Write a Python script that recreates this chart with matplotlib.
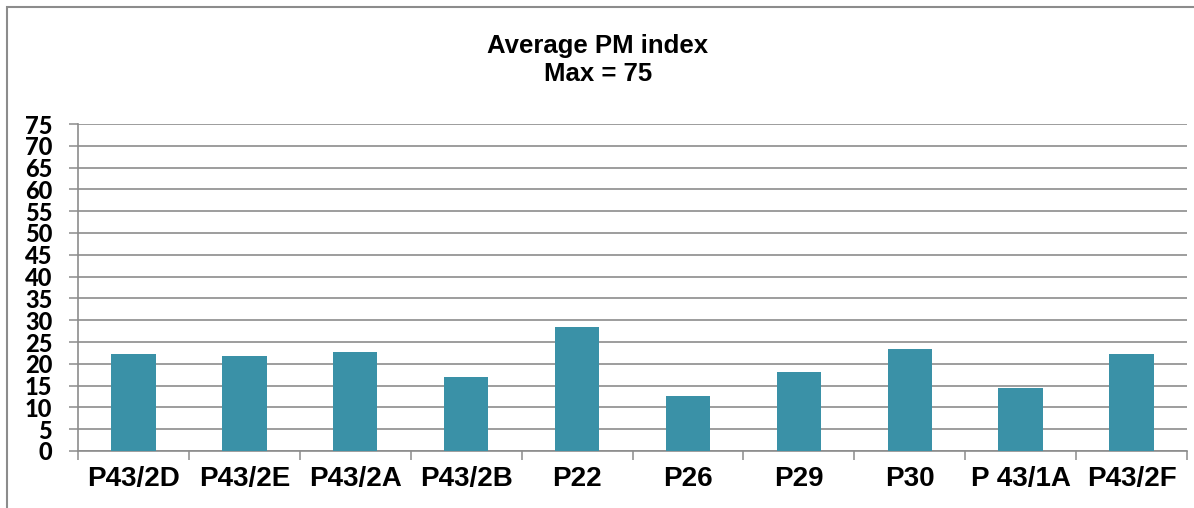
import matplotlib
matplotlib.use("Agg")
import matplotlib.pyplot as plt
from matplotlib.patches import Rectangle

plots = ["P43/2D", "P43/2E", "P43/2A", "P43/2B", "P22", "P26", "P29", "P30", "P 43/1A", "P43/2F"]
pm_index = [22.2, 21.8, 22.8, 16.9, 28.4, 12.7, 18.1, 23.3, 14.5, 22.2]
y_ticks = list(range(0, 80, 5))

bar_color = "#3A91A7"
grid_color = "#8C8C8C"

fig = plt.figure(figsize=(11.94, 5.08), dpi=100)
# chart frame
fig.patches.append(Rectangle((7 / 1194, -0.1), 1.2, 1.1 - 7 / 508, transform=fig.transFigure,
                             fill=False, edgecolor="#8C8C8C", linewidth=1.5))

ax = fig.add_axes([78 / 1194, 57 / 508, 1109 / 1194, 327 / 508])
x = list(range(len(plots)))
ax.bar(x, pm_index, width=0.4, color=bar_color, edgecolor="none", zorder=3)

ax.set_xlim(-0.5, len(plots) - 0.5)
ax.set_ylim(0, 75)
ax.set_yticks(y_ticks)
ax.set_yticklabels([str(v) for v in y_ticks], fontfamily="Lato", fontweight="black", fontsize=17)
ax.yaxis.grid(True, color=grid_color, linewidth=1.2, zorder=0)
ax.tick_params(axis="y", length=6.5, width=1.1, color=grid_color, pad=12)

ax.set_xticks([i - 0.5 for i in range(len(plots) + 1)])
ax.set_xticklabels([])
ax.set_xticks(x, minor=True)
ax.set_xticklabels(plots, minor=True, fontfamily="Liberation Sans", fontweight="bold", fontsize=20)
ax.tick_params(axis="x", which="major", length=6.5, width=1.1, color=grid_color)
ax.tick_params(axis="x", which="minor", length=0, pad=11)

for side in ["top", "right"]:
    ax.spines[side].set_visible(False)
for side in ["left", "bottom"]:
    ax.spines[side].set_color(grid_color)
    ax.spines[side].set_linewidth(1.2)

fig.text(598 / 1194, 1 - 60 / 508, "Average PM index\nMax = 75", ha="center", va="center",
         fontfamily="Liberation Sans", fontweight="bold", fontsize=18.5, linespacing=1.2)

fig.savefig("out.png", dpi=100)
